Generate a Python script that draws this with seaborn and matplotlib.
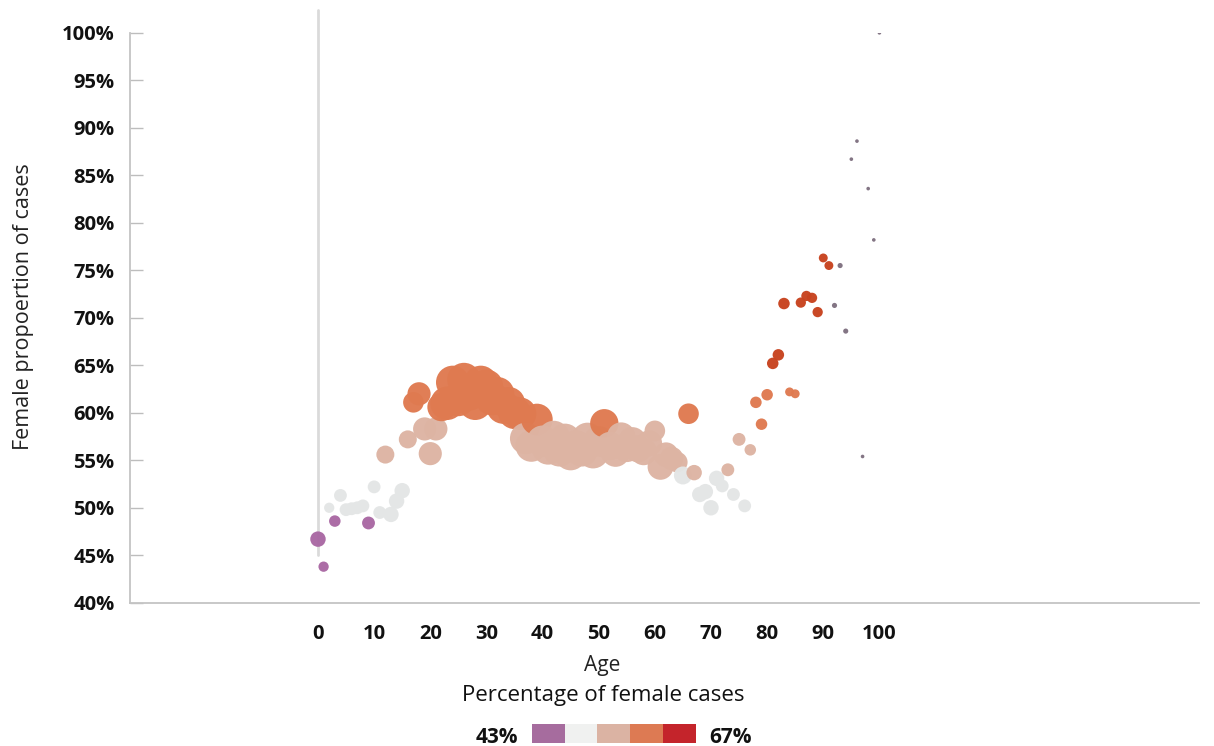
import numpy as np
import pandas as pd
import matplotlib
matplotlib.use("Agg")
import matplotlib.pyplot as plt
from matplotlib.colors import ListedColormap
import seaborn as sns

ages = list(range(0, 101))
female_pct = [
    46.7, 43.8, 50.0, 48.6, 51.3, 49.8, 49.9, 50.0, 50.2, 48.4,
    52.2, 49.5, 55.6, 49.3, 50.7, 51.8, 57.2, 61.1, 62.0, 58.3,
    55.7, 58.3, 60.6, 61.0, 63.2, 61.4, 63.5, 62.0, 61.0, 63.2,
    62.8, 61.5, 62.0, 60.6, 61.0, 60.0, 59.9, 57.3, 56.5, 59.3,
    57.0, 56.2, 57.5, 56.0, 57.2, 55.6, 56.5, 56.0, 57.3, 55.8,
    57.0, 58.9, 56.5, 55.8, 57.5, 56.3, 57.0, 56.2, 55.9, 56.8,
    58.1, 54.3, 55.6, 55.2, 54.8, 53.4, 59.9, 53.7, 51.4, 51.7,
    50.0, 53.1, 52.3, 54.0, 51.4, 57.2, 50.2, 56.1, 61.1, 58.8,
    61.9, 65.2, 66.1, 71.5, 62.2, 62.0, 71.6, 72.3, 72.1, 70.6,
    76.3, 75.5, 71.3, 75.5, 68.6, 86.7, 88.6, 55.4, 83.6, 78.2,
    100.0,
]
cases = [
    36, 16, 16, 20, 25, 25, 25, 25, 25, 25,
    25, 25, 49, 36, 36, 36, 49, 64, 81, 81,
    81, 81, 121, 169, 169, 169, 169, 169, 169, 169,
    169, 169, 169, 169, 160, 160, 160, 150, 150, 150,
    150, 150, 150, 150, 150, 150, 150, 150, 150, 150,
    140, 121, 121, 121, 121, 121, 121, 110, 110, 100,
    64, 100, 90, 81, 64, 49, 64, 36, 36, 36,
    36, 36, 25, 25, 25, 25, 25, 20, 20, 20,
    20, 20, 20, 20, 12, 12, 16, 16, 16, 16,
    12, 12, 4, 4, 4, 2, 2, 2, 2, 2,
    2,
]

band_edges = [0, 49, 53.5, 58.5, 64, 101]
band_names = ["purple", "grey", "peach", "orange", "red"]
legend_colors = ["#A66C9E", "#F0F1F0", "#DBB3A3", "#DD7A53", "#C4242B"]
point_colors = {"purple": "#A968A3", "grey": "#E4E6E6", "peach": "#DDB4A3",
                "orange": "#DF7A50", "red": "#C8431F", "tiny": "#7F7080"}

df = pd.DataFrame({"age": ages, "female_pct": female_pct, "cases": cases})
df["band"] = pd.cut(df["female_pct"], bins=band_edges, labels=band_names).astype(str)
df.loc[df["cases"] <= 4, "band"] = "tiny"

sns.set_theme(style="white")
plt.rcParams["font.family"] = ["Open Sans", "DejaVu Sans"]

fig = plt.figure(figsize=(12.14, 7.46), dpi=100)
ax = fig.add_axes([0.107, 0.192, 0.881, 0.764])

# faint vertical guide at age 0
ax.plot([0, 0], [45, 102.4], color="#DADADA", lw=2, zorder=0, clip_on=False)

sns.scatterplot(data=df, x="age", y="female_pct", hue="band", palette=point_colors,
                size="cases", sizes=(0, 580), size_norm=(0, 169),
                linewidth=0, alpha=0.97, legend=False, ax=ax, zorder=2)

ax.set_xlim(-33.5, 157)
ax.set_ylim(40, 100)
ax.set_xticks(range(0, 101, 10))
ax.set_yticks(range(40, 101, 5))
ax.set_yticklabels([f"{v}%" for v in range(40, 101, 5)])
for lab in ax.get_xticklabels() + ax.get_yticklabels():
    lab.set_fontweight("bold")
    lab.set_fontsize(14.5)
    lab.set_color("#111111")
ax.tick_params(axis="y", direction="in", length=9, width=1, color="#BDBDBD", pad=11, left=True)
ax.tick_params(axis="x", length=0, pad=15)

for side in ["top", "right"]:
    ax.spines[side].set_visible(False)
for side in ["left", "bottom"]:
    ax.spines[side].set_color("#C4C4C4")
    ax.spines[side].set_linewidth(1.3)

ax.set_xlabel("Age", fontsize=15, color="#222222")
ax.xaxis.set_label_coords(0.442, -0.092)
ax.set_ylabel("Female propoertion of cases", fontsize=15.5, color="#222222")
ax.yaxis.set_label_coords(-0.09, 0.52)

fig.text(0.497, 0.068, "Percentage of female cases", ha="center", va="center",
         fontsize=16, color="#111111")
fig.text(0.409, 0.012, "43%", ha="center", va="center", fontsize=15,
         fontweight="bold", color="#111111")
fig.text(0.602, 0.012, "67%", ha="center", va="center", fontsize=15,
         fontweight="bold", color="#111111")

lax = fig.add_axes([0.438, 0.004, 0.135, 0.026])
sns.heatmap(np.arange(5).reshape(1, 5), cmap=ListedColormap(legend_colors),
            cbar=False, xticklabels=False, yticklabels=False, ax=lax)

fig.savefig("out.png", dpi=100)
